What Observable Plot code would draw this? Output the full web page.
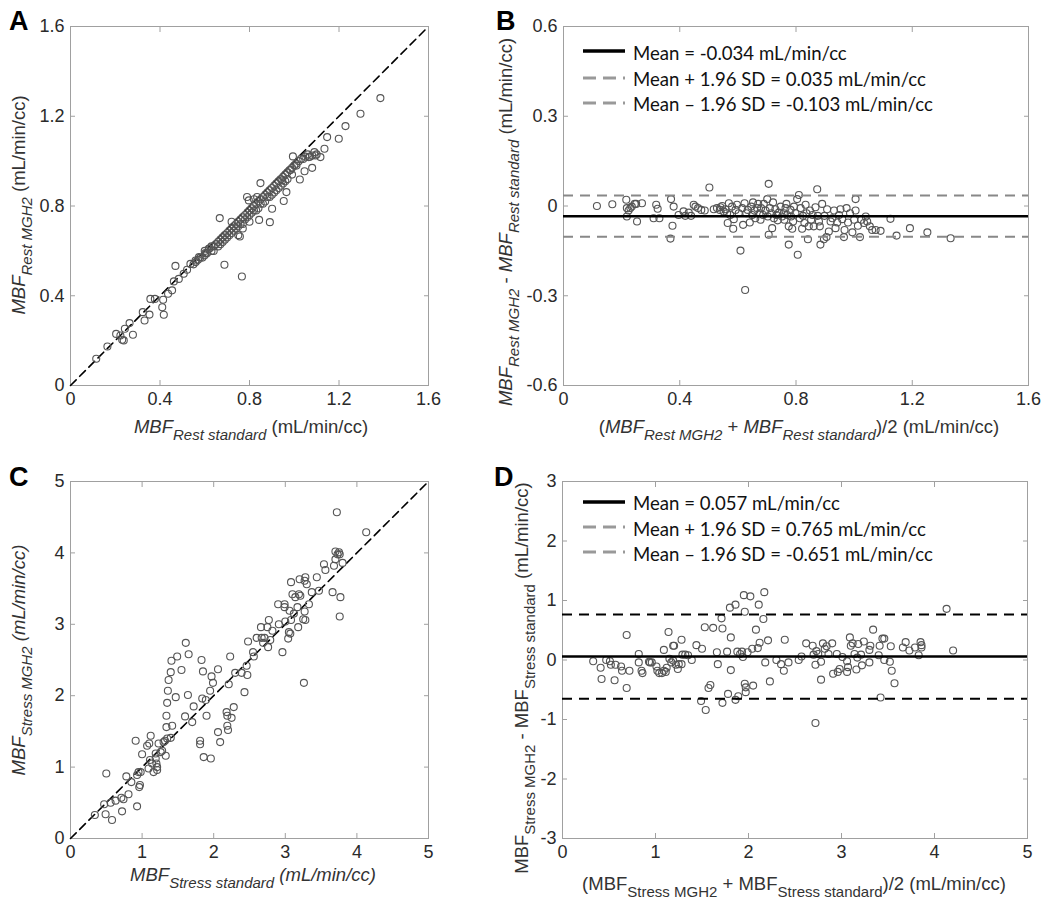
<!DOCTYPE html>
<html><head><meta charset="utf-8">
<script src="https://cdn.jsdelivr.net/npm/d3@7"></script>
<script src="https://cdn.jsdelivr.net/npm/@observablehq/plot@0.6"></script>
<style>
body{margin:0;background:#fff;width:1050px;height:905px;position:relative;overflow:hidden;font-family:"Liberation Sans",Arial,sans-serif;}
.panel{position:absolute;}
.panel svg{overflow:visible;}
.lbl{position:absolute;white-space:nowrap;color:#333;font-size:18.5px;line-height:1;transform:translate(-50%,-50%);}
.lbl.rot{transform:translate(-50%,-50%) rotate(-90deg);}
.sub{font-size:15px;position:relative;top:0.45em;}
.it{font-style:italic;}
.letter{position:absolute;font-weight:bold;font-size:27px;color:#000;line-height:1;}
.leg{position:absolute;font-family:Lato,"Liberation Sans",sans-serif;font-size:18.6px;color:#111;white-space:nowrap;line-height:1;transform:translateY(-50%);}
.legline{position:absolute;}
</style>
</head><body>
<script>
// ---------- Data ----------
// Panel A: rest MBF, standard (x) vs MGH2 (y)
const restPairs = [
[0.115,0.119],[0.165,0.174],[0.204,0.230],[0.223,0.223],[0.231,0.204],[0.238,0.201],[0.243,0.253],[0.264,0.278],[0.279,0.226],
[0.323,0.327],[0.331,0.290],[0.353,0.316],[0.357,0.386],[0.377,0.386],[0.410,0.349],[0.417,0.315],[0.414,0.382],[0.436,0.409],
[0.454,0.424],[0.469,0.533],[0.462,0.464],[0.484,0.475],[0.506,0.498],[0.521,0.516],[0.536,0.542],[0.559,0.557],[0.574,0.572],
[0.603,0.590],[0.618,0.609],[0.688,0.538],[0.667,0.746],[0.766,0.486],[0.757,0.664],[0.843,0.738],[0.891,0.728],[0.901,0.788],
[0.849,0.902],[0.953,0.822],[0.994,1.021],[1.080,0.970],[1.135,1.055],[1.147,1.107],[1.199,1.100],[1.229,1.156],[1.296,1.211],
[1.385,1.281],[1.117,1.018],[1.095,1.025],[1.080,1.025],[1.065,1.018],[1.046,0.955],[1.025,0.918],[1.009,0.988],[0.983,0.961],
[0.965,0.862],[0.946,0.914],[0.789,0.840],[0.797,0.825],[0.834,0.840],
[0.55,0.54],[0.56,0.55],[0.57,0.56],[0.58,0.57],[0.59,0.57],[0.60,0.58],[0.60,0.60],[0.61,0.59],[0.62,0.61],[0.63,0.60],
[0.63,0.62],[0.64,0.62],[0.64,0.60],[0.65,0.63],[0.66,0.64],[0.66,0.62],[0.67,0.65],[0.67,0.63],[0.68,0.66],[0.68,0.64],
[0.69,0.67],[0.69,0.65],[0.70,0.68],[0.70,0.66],[0.71,0.69],[0.71,0.67],[0.72,0.70],[0.72,0.68],[0.72,0.73],[0.73,0.71],
[0.73,0.69],[0.74,0.72],[0.74,0.70],[0.75,0.73],[0.75,0.71],[0.75,0.67],[0.76,0.74],[0.76,0.72],[0.77,0.75],[0.77,0.72],
[0.77,0.70],[0.78,0.76],[0.78,0.74],[0.79,0.77],[0.79,0.75],[0.80,0.78],[0.80,0.76],[0.80,0.73],[0.81,0.79],[0.81,0.77],
[0.82,0.80],[0.82,0.78],[0.82,0.83],[0.83,0.81],[0.83,0.78],[0.84,0.82],[0.84,0.79],[0.85,0.83],[0.85,0.81],[0.86,0.84],
[0.86,0.81],[0.87,0.85],[0.87,0.82],[0.88,0.86],[0.88,0.84],[0.89,0.87],[0.89,0.84],[0.90,0.88],[0.90,0.85],[0.91,0.89],
[0.91,0.86],[0.92,0.90],[0.92,0.87],[0.93,0.91],[0.93,0.88],[0.94,0.92],[0.94,0.89],[0.95,0.93],[0.95,0.90],[0.96,0.94],
[0.96,0.91],[0.97,0.95],[0.97,0.92],[0.98,0.96],[0.99,0.97],[0.99,0.94],[1.00,0.98],[1.01,0.98],[1.02,1.00],[1.03,1.01],
[1.04,1.01],[1.05,1.02],[1.06,1.03],[1.07,1.02],[1.09,1.04],[1.10,1.03]
];
// Panel B: Bland-Altman rest, mean (x) vs difference (y)
const restBAPairs = [
[0.115,0.000],[0.168,0.006],[0.216,0.021],[0.218,-0.007],[0.218,-0.035],[0.224,-0.015],[0.230,-0.007],[0.235,-0.002],[0.245,0.007],
[0.250,0.007],[0.253,-0.052],[0.270,0.009],[0.310,-0.041],[0.319,0.004],[0.324,-0.009],[0.330,-0.041],[0.370,0.023],[0.375,-0.066],
[0.379,-0.002],[0.368,-0.109],[0.396,-0.030],[0.413,-0.018],[0.419,-0.033],[0.431,-0.022],[0.439,-0.033],[0.448,0.004],[0.454,-0.002],
[0.463,-0.007],[0.474,-0.013],[0.486,-0.015],[0.502,0.062],[0.517,-0.011],[0.528,-0.007],[0.538,-0.013],[0.540,-0.004],[0.546,0.000],
[0.551,-0.018],[0.557,-0.011],[0.563,-0.024],[0.565,-0.057],[0.569,0.009],[0.574,-0.030],[0.580,-0.002],[0.584,-0.076],[0.586,-0.044],
[0.592,-0.013],[0.597,0.004],[0.603,-0.024],[0.609,-0.149],[0.615,-0.007],[0.618,-0.063],[0.623,0.009],[0.625,-0.281],[0.629,-0.024],
[0.634,-0.013],[0.641,-0.055],[0.646,-0.002],[0.649,-0.030],[0.652,0.012],[0.657,-0.015],[0.660,-0.041],[0.666,-0.007],[0.670,0.007],
[0.675,-0.024],[0.678,-0.046],[0.680,-0.007],[0.687,-0.030],[0.689,0.007],[0.695,-0.015],[0.701,0.023],[0.703,-0.035],[0.706,0.074],
[0.706,-0.096],[0.710,-0.007],[0.715,-0.024],[0.718,-0.074],[0.721,0.012],[0.724,-0.041],[0.729,-0.011],[0.733,-0.030],[0.737,-0.048],
[0.741,-0.022],[0.747,-0.002],[0.752,-0.035],[0.758,-0.024],[0.760,-0.046],[0.764,-0.007],[0.767,0.007],[0.770,-0.030],[0.775,-0.129],
[0.775,-0.068],[0.781,-0.013],[0.783,-0.035],[0.787,-0.076],[0.790,-0.052],[0.793,-0.002],[0.798,-0.024],[0.804,0.023],[0.806,-0.163],
[0.810,0.037],[0.813,-0.041],[0.816,-0.007],[0.821,-0.076],[0.824,-0.033],[0.829,-0.057],[0.833,0.004],[0.836,-0.024],[0.841,-0.111],
[0.844,-0.068],[0.848,-0.015],[0.852,-0.046],[0.857,-0.030],[0.861,-0.068],[0.867,-0.004],[0.873,0.056],[0.875,-0.033],[0.879,-0.052],
[0.882,-0.068],[0.884,-0.129],[0.890,0.007],[0.896,-0.111],[0.898,-0.033],[0.905,-0.104],[0.907,-0.011],[0.913,-0.085],[0.919,-0.052],
[0.925,-0.041],[0.931,-0.015],[0.936,-0.074],[0.942,-0.055],[0.948,-0.030],[0.953,-0.011],[0.959,-0.044],[0.965,-0.104],[0.967,-0.080],
[0.974,-0.007],[0.979,-0.055],[0.986,-0.024],[0.994,-0.088],[1.000,-0.046],[1.005,0.023],[1.005,-0.015],[1.013,-0.066],[1.020,-0.104],
[1.025,-0.046],[1.034,-0.057],[1.040,-0.035],[1.045,-0.052],[1.054,-0.068],[1.062,-0.080],[1.074,-0.080],[1.091,-0.083],[1.125,-0.043],
[1.146,-0.099],[1.192,-0.074],[1.252,-0.088],[1.332,-0.108]
];
const restMean = -0.034;
const restLimits = [0.035, -0.103];

// Panel C: stress MBF, standard (x) vs MGH2 (y)
const stressPairs = [
[0.34,0.33],[0.50,0.91],[0.47,0.48],[0.49,0.34],[0.56,0.50],[0.58,0.26],[0.63,0.53],[0.71,0.57],[0.72,0.38],[0.74,0.55],
[0.78,0.87],[0.81,0.62],[0.85,0.79],[0.91,1.37],[0.93,0.45],[0.93,0.89],[0.95,0.93],[0.97,0.75],[0.96,0.72],[1.00,1.18],
[0.98,0.93],[1.07,1.30],[1.11,1.10],[1.12,1.44],[1.10,1.33],[1.09,0.98],[1.14,1.05],[1.16,0.93],[1.19,1.19],[1.21,1.00],
[1.21,0.96],[1.20,1.05],[1.19,1.12],[1.23,1.33],[1.26,1.21],[1.28,1.23],[1.30,1.35],[1.33,1.16],[1.32,1.37],[1.34,1.56],
[1.34,1.72],[1.35,1.90],[1.36,2.07],[1.37,2.22],[1.40,2.33],[1.41,2.49],[1.42,1.58],[1.35,1.40],[1.40,1.41],[1.47,1.98],
[1.49,2.55],[1.55,2.36],[1.61,2.74],[1.60,1.71],[1.65,2.58],[1.64,2.01],[1.70,1.63],[1.72,1.85],[1.81,1.37],[1.81,1.32],
[1.83,2.50],[1.86,1.14],[1.84,1.96],[1.85,2.34],[1.89,1.94],[1.90,1.72],[1.95,2.07],[1.96,1.12],[1.97,2.27],[1.99,2.18],
[2.06,2.37],[2.06,1.49],[2.09,1.35],[2.18,1.77],[2.19,1.72],[2.19,1.58],[2.20,1.52],[2.21,2.16],[2.23,2.55],[2.25,1.69],
[2.28,1.84],[2.30,2.32],[2.39,2.32],[2.43,2.05],[2.46,2.42],[2.47,2.29],[2.48,2.76],[2.55,2.61],[2.56,2.55],[2.60,2.81],
[2.66,2.96],[2.67,2.81],[2.69,2.74],[2.71,2.81],[2.75,2.96],[2.76,2.68],[2.77,3.06],[2.79,2.78],[2.82,2.91],[2.90,3.28],
[2.91,3.00],[2.96,2.61],[2.99,3.28],[2.99,3.24],[3.00,3.04],[3.04,2.80],[3.05,2.89],[3.07,2.87],[3.08,3.59],[3.10,3.42],
[3.08,3.06],[3.06,3.19],[3.12,3.15],[3.14,3.38],[3.17,3.24],[3.18,2.96],[3.19,3.42],[3.20,3.63],[3.21,3.40],[3.25,3.07],
[3.26,2.18],[3.27,3.61],[3.28,3.66],[3.27,3.18],[3.28,3.06],[3.30,3.56],[3.33,3.28],[3.37,3.45],[3.44,3.66],[3.47,3.47],
[3.54,3.84],[3.56,3.76],[3.66,3.45],[3.68,3.82],[3.70,3.91],[3.70,4.02],[3.72,4.57],[3.73,3.98],[3.75,4.01],[3.76,3.98],
[3.77,3.38],[3.76,3.11],[3.80,3.86],[4.13,4.29]
];
// Panel D: Bland-Altman stress, mean (x) vs difference (y)
const stressBAPairs = [
[0.33,-0.02],[0.41,-0.13],[0.42,-0.32],[0.47,0.00],[0.51,-0.02],[0.52,-0.08],[0.56,-0.34],[0.57,-0.08],[0.63,-0.11],[0.64,-0.18],
[0.69,0.42],[0.69,-0.47],[0.72,-0.18],[0.82,0.10],[0.82,-0.04],[0.85,-0.18],[0.86,-0.22],[0.93,-0.03],[0.94,-0.04],[0.96,-0.04],
[1.01,-0.11],[1.02,-0.18],[1.04,-0.22],[1.07,-0.22],[1.09,-0.18],[1.09,0.17],[1.11,-0.20],[1.12,-0.13],[1.14,0.47],[1.15,0.02],
[1.17,-0.04],[1.19,0.24],[1.20,0.24],[1.19,-0.01],[1.22,-0.08],[1.24,-0.15],[1.25,-0.07],[1.28,0.34],[1.28,-0.07],[1.29,0.09],
[1.32,0.09],[1.35,0.08],[1.39,0.00],[1.44,0.25],[1.49,-0.69],[1.50,0.19],[1.53,0.55],[1.54,-0.84],[1.57,-0.47],[1.59,-0.42],
[1.62,0.54],[1.66,0.13],[1.67,-0.07],[1.71,0.70],[1.72,0.53],[1.72,-0.72],[1.77,0.14],[1.78,-0.57],[1.80,0.88],[1.81,0.38],
[1.81,-0.17],[1.86,0.93],[1.86,-0.67],[1.88,0.14],[1.89,-0.61],[1.91,0.10],[1.93,0.14],[1.94,0.05],[1.95,1.09],[1.96,0.81],
[1.96,-0.40],[1.97,-0.46],[1.97,-0.54],[1.99,0.13],[2.02,1.07],[2.04,0.19],[2.05,-0.43],[2.08,0.51],[2.10,0.20],[2.11,0.93],
[2.12,0.29],[2.16,0.69],[2.17,1.14],[2.18,-0.04],[2.21,0.33],[2.23,-0.36],[2.30,0.00],[2.35,-0.07],[2.38,-0.18],[2.39,0.34],
[2.43,-0.04],[2.54,0.00],[2.57,0.06],[2.62,0.28],[2.69,0.24],[2.70,0.09],[2.72,-0.08],[2.72,-1.06],[2.73,0.15],[2.75,0.10],
[2.78,-0.03],[2.78,-0.33],[2.80,0.28],[2.82,0.19],[2.84,0.23],[2.86,0.10],[2.90,0.28],[2.91,-0.23],[2.95,0.10],[2.96,-0.20],
[2.98,-0.15],[3.01,0.05],[3.06,-0.02],[3.06,-0.20],[3.07,-0.12],[3.09,0.38],[3.10,0.24],[3.12,0.28],[3.14,0.10],[3.16,-0.16],
[3.17,0.04],[3.18,0.27],[3.21,0.09],[3.22,-0.09],[3.24,0.31],[3.30,0.17],[3.31,0.24],[3.30,-0.04],[3.34,0.51],[3.40,0.08],
[3.41,0.24],[3.42,-0.63],[3.44,0.36],[3.46,0.36],[3.46,0.00],[3.52,-0.03],[3.54,-0.18],[3.53,0.23],[3.57,-0.39],[3.66,0.21],
[3.69,0.30],[3.73,0.16],[3.79,0.21],[3.83,0.08],[3.85,0.30],[3.86,0.25],[3.86,0.21],[4.13,0.86],[4.20,0.16]
];
const stressMean = 0.057;
const stressLimits = [0.765, -0.651];

// Axis domains & ticks
const restDomain = [0, 1.6];
const restTicks = [0, 0.4, 0.8, 1.2, 1.6];
const restDiffDomain = [-0.6, 0.6];
const restDiffTicks = [-0.6, -0.3, 0, 0.3, 0.6];
const stressDomain = [0, 5];
const stressTicks = [0, 1, 2, 3, 4, 5];
const stressDiffDomain = [-3, 3];
const stressDiffTicks = [-3, -2, -1, 0, 1, 2, 3];

const legendRest = ["Mean = -0.034 mL/min/cc", "Mean + 1.96 SD = 0.035 mL/min/cc", "Mean \u2013 1.96 SD = -0.103 mL/min/cc"];
const legendStress = ["Mean = 0.057 mL/min/cc", "Mean + 1.96 SD = 0.765 mL/min/cc", "Mean \u2013 1.96 SD = -0.651 mL/min/cc"];

// ---------- Drawing ----------
const fmt = d => String(d);
const TICK = "#a0a0a0";
function axes(xt, yt) {
  return [
    Plot.frame({stroke: TICK, strokeWidth: 1}),
    Plot.axisX(xt, {anchor: "bottom", tickSize: 0, tickPadding: 7, tickFormat: fmt, label: null, fill: "#2a2a2a", fontSize: 18}),
    Plot.axisY(yt, {anchor: "left", tickSize: 0, tickPadding: 6, tickFormat: fmt, label: null, fill: "#2a2a2a", fontSize: 18}),
    Plot.axisX(xt, {anchor: "bottom", tickSize: -5, tickFormat: () => "", label: null, stroke: TICK}),
    Plot.axisX(xt, {anchor: "top", tickSize: -5, tickFormat: () => "", label: null, stroke: TICK}),
    Plot.axisY(yt, {anchor: "left", tickSize: -5, tickFormat: () => "", label: null, stroke: TICK}),
    Plot.axisY(yt, {anchor: "right", tickSize: -5, tickFormat: () => "", label: null, stroke: TICK})
  ];
}
const dotOpts = {x: d => d[0], y: d => d[1], r: 3.5, stroke: "#555", strokeWidth: 1.1, fill: "none"};

function place(svg, left, top) {
  const div = document.createElement("div");
  div.className = "panel";
  div.style.left = left + "px";
  div.style.top = top + "px";
  div.appendChild(svg);
  document.body.appendChild(div);
}
const baseStyle = {fontFamily: "'Liberation Sans', Arial, sans-serif", fontSize: "18px", color: "#333", background: "transparent", overflow: "visible"};

// Panel A
place(Plot.plot({
  width: 440, height: 410, marginLeft: 70, marginRight: 12, marginTop: 26, marginBottom: 25,
  x: {domain: restDomain}, y: {domain: restDomain}, style: baseStyle,
  marks: [
    ...axes(restTicks, restTicks),
    Plot.line(restDomain, {x: d => d, y: d => d, stroke: "#000", strokeWidth: 1.6, strokeDasharray: "8,5"}),
    Plot.dot(restPairs, dotOpts)
  ]
}), 0, 0);

// Panel B
place(Plot.plot({
  width: 530, height: 410, marginLeft: 43, marginRight: 22, marginTop: 26, marginBottom: 25,
  x: {domain: restDomain}, y: {domain: restDiffDomain}, style: baseStyle,
  marks: [
    ...axes(restTicks, restDiffTicks),
    Plot.dot(restBAPairs, dotOpts),
    Plot.ruleY(restLimits, {stroke: "#888", strokeWidth: 2, strokeDasharray: "10,7"}),
    Plot.ruleY([restMean], {stroke: "#000", strokeWidth: 2.5})
  ]
}), 520, 0);

// Panel C
place(Plot.plot({
  width: 440, height: 410, marginLeft: 70, marginRight: 12, marginTop: 26, marginBottom: 27,
  x: {domain: stressDomain}, y: {domain: stressDomain}, style: baseStyle,
  marks: [
    ...axes(stressTicks, stressTicks),
    Plot.line(stressDomain, {x: d => d, y: d => d, stroke: "#000", strokeWidth: 1.6, strokeDasharray: "8,5"}),
    Plot.dot(stressPairs, dotOpts)
  ]
}), 0, 455);

// Panel D
place(Plot.plot({
  width: 530, height: 410, marginLeft: 42, marginRight: 23, marginTop: 26, marginBottom: 27,
  x: {domain: stressDomain}, y: {domain: stressDiffDomain}, style: baseStyle,
  marks: [
    ...axes(stressTicks, stressDiffTicks),
    Plot.dot(stressBAPairs, dotOpts),
    Plot.ruleY(stressLimits, {stroke: "#000", strokeWidth: 2, strokeDasharray: "10,7"}),
    Plot.ruleY([stressMean], {stroke: "#000", strokeWidth: 2.5})
  ]
}), 520, 455);

// ---------- Text: letters, axis labels, legends ----------
function addDiv(cls, html, x, y) {
  const d = document.createElement("div");
  d.className = cls;
  d.innerHTML = html;
  d.style.left = x + "px";
  d.style.top = y + "px";
  document.body.appendChild(d);
  return d;
}
addDiv("letter", "A", 9, 8);
addDiv("letter", "B", 496, 8);
addDiv("letter", "C", 9, 464);
addDiv("letter", "D", 494, 464);

const s = t => `<span class="sub">${t}</span>`;
addDiv("lbl rot", `<span class="it">MBF${s("Rest MGH2")}</span> (mL/min/cc)`, 19, 205);
addDiv("lbl", `<span class="it">MBF${s("Rest standard")}</span> (mL/min/cc)`, 251, 427);
addDiv("lbl rot", `<span class="it">MBF${s("Rest MGH2")}</span> - <span class="it">MBF${s("Rest standard")}</span> (mL/min/cc)`, 506, 222);
addDiv("lbl", `(<span class="it">MBF${s("Rest MGH2")}</span> + <span class="it">MBF${s("Rest standard")}</span>)/2 (mL/min/cc)`, 799, 427);
addDiv("lbl rot it", `MBF${s("Stress MGH2")} (mL/min/cc)`, 19, 660);
addDiv("lbl it", `MBF${s("Stress standard")} (mL/min/cc)`, 253, 875);
addDiv("lbl rot", `MBF${s("Stress MGH2")} - MBF${s("Stress standard")} (mL/min/cc)`, 522, 678);
addDiv("lbl", `(MBF${s("Stress MGH2")} + MBF${s("Stress standard")})/2 (mL/min/cc)`, 794, 884);

function legend(texts, rows) {
  const styles = [
    {stroke: "#000", w: 3.5, dash: null},
    {stroke: "#999", w: 3, dash: "13,7"},
    {stroke: "#999", w: 3, dash: "13,7"}
  ];
  texts.forEach((t, i) => {
    const y = rows[i];
    const st = styles[i];
    const svg = d3.create("svg").attr("width", 44).attr("height", 10)
      .attr("class", "legline").style("left", "582px").style("top", (y - 5) + "px");
    svg.append("line").attr("x1", 1).attr("x2", 43).attr("y1", 5).attr("y2", 5)
      .attr("stroke", st.stroke).attr("stroke-width", st.w).attr("stroke-dasharray", st.dash);
    document.body.appendChild(svg.node());
    addDiv("leg", t, 633, y + 1.5);
  });
}
legend(legendRest, [51, 77.5, 102.5]);
legend(legendStress, [501.5, 527, 552]);
</script>
</body></html>
